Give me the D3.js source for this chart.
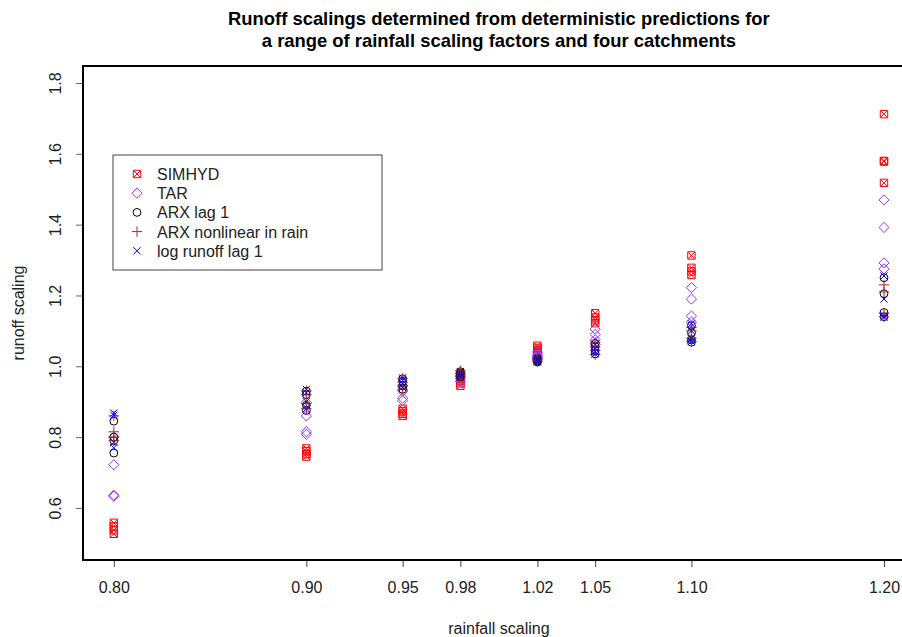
<!DOCTYPE html>
<html>
<head>
<meta charset="utf-8">
<script src="https://cdn.jsdelivr.net/npm/d3@7"></script>
<style>
  body { margin: 0; background: #fff; }
  svg text { font-family: "Liberation Sans", Arial, sans-serif; }
</style>
</head>
<body>
<svg id="chart" width="902" height="637"></svg>
<script>
// rainfall scaling factors (x positions)
const rainScale= [0.80, 0.90, 0.95, 0.98, 1.02, 1.05, 1.10, 1.20];
const xTickLabels= ['0.80', '0.90', '0.95', '0.98', '1.02', '1.05', '1.10', '1.20'];
const yTicks= [0.6, 0.8, 1.0, 1.2, 1.4, 1.6, 1.8];

// runoff scaling, one row per rainfall factor, four catchments each
const simhyd= [
  [0.558, 0.548, 0.537, 0.527],
  [0.768, 0.760, 0.752, 0.745],
  [0.880, 0.873, 0.866, 0.860],
  [0.970, 0.960, 0.952, 0.945],
  [1.058, 1.052, 1.045, 1.040],
  [1.150, 1.138, 1.130, 1.122],
  [1.313, 1.278, 1.268, 1.258],
  [1.712, 1.580, 1.578, 1.518]
];
const tar= [
  [0.800, 0.722, 0.636, 0.633],
  [0.898, 0.860, 0.815, 0.808],
  [0.945, 0.930, 0.910, 0.903],
  [0.980, 0.972, 0.965, 0.958],
  [1.040, 1.032, 1.028, 1.022],
  [1.105, 1.090, 1.075, 1.062],
  [1.222, 1.190, 1.142, 1.125],
  [1.470, 1.392, 1.292, 1.275]
];
const arxLag1= [
  [0.845, 0.800, 0.790, 0.755],
  [0.930, 0.920, 0.890, 0.875],
  [0.965, 0.958, 0.945, 0.935],
  [0.985, 0.980, 0.975, 0.970],
  [1.022, 1.018, 1.015, 1.012],
  [1.065, 1.055, 1.045, 1.035],
  [1.115, 1.095, 1.075, 1.068],
  [1.250, 1.205, 1.152, 1.140]
];
const arxNonlin= [
  [0.860, 0.815, 0.800, 0.790],
  [0.930, 0.920, 0.895, 0.880],
  [0.965, 0.955, 0.945, 0.935],
  [0.987, 0.980, 0.975, 0.970],
  [1.025, 1.020, 1.017, 1.013],
  [1.068, 1.055, 1.045, 1.033],
  [1.110, 1.100, 1.080, 1.070],
  [1.230, 1.210, 1.150, 1.140]
];
const logRunoff= [
  [0.868, 0.862, 0.785, 0.770],
  [0.935, 0.925, 0.900, 0.880],
  [0.967, 0.960, 0.950, 0.940],
  [0.985, 0.980, 0.975, 0.970],
  [1.022, 1.018, 1.016, 1.012],
  [1.062, 1.050, 1.042, 1.035],
  [1.120, 1.100, 1.078, 1.070],
  [1.255, 1.190, 1.143, 1.138]
];

const seriesNames= ['SIMHYD', 'TAR', 'ARX lag 1', 'ARX nonlinear in rain', 'log runoff lag 1'];
const seriesData= [simhyd, tar, arxLag1, arxNonlin, logRunoff];
const seriesColors= ['#ff0000', '#9b30ff', '#000000', '#a52a2a', '#0000ff'];

const svg= d3.select('#chart');
const L= 83, T= 66, B= 560, R= 914.8;

const x= d3.scaleLinear().domain([0.784, 1.216]).range([L, R]);
const y= d3.scaleLinear().domain([0.453, 1.848]).range([B, T]);

// symbol drawing, R-like pch shapes
function drawSymbol(g, i, color) {
  const add= (type, size) => g.append('path')
    .attr('d', d3.symbol().type(type).size(size)())
    .attr('fill', 'none').attr('stroke', color).attr('stroke-width', 1);
  if (i === 0) { add(d3.symbolSquare2, 70); add(d3.symbolTimes, 28); }
  else if (i === 1) add(d3.symbolDiamond2, 66);
  else if (i === 2) add(d3.symbolCircle, 48);
  else if (i === 3) add(d3.symbolPlus, 38);
  else add(d3.symbolTimes, 36);
}

// points
seriesData.forEach((rows, si) => {
  const pts= [];
  rows.forEach((vals, ri) => vals.forEach(v => pts.push([rainScale[ri], v])));
  svg.append('g').selectAll('g').data(pts).join('g')
    .attr('transform', d => `translate(${x(d[0])},${y(d[1])})`)
    .each(function() { drawSymbol(d3.select(this), si, seriesColors[si]); });
});

// axes
const xAxis= svg.append('g').attr('transform', `translate(0,${B})`)
  .call(d3.axisBottom(x).tickValues(rainScale).tickFormat((d, i) => xTickLabels[i]).tickSize(7).tickSizeOuter(0));
xAxis.select('.domain').remove();
xAxis.selectAll('text').attr('font-size', 16).attr('fill', '#222').attr('dy', 0).attr('y', 33);
xAxis.selectAll('line').attr('stroke', '#444');

const yAxis= svg.append('g').attr('transform', `translate(${L},0)`)
  .call(d3.axisLeft(y).tickValues(yTicks).tickSize(7).tickSizeOuter(0));
yAxis.select('.domain').remove();
yAxis.selectAll('line').attr('stroke', '#666');
yAxis.selectAll('text').remove();
yAxis.selectAll('.tick').append('text')
  .attr('transform', 'translate(-22,0) rotate(-90)')
  .attr('text-anchor', 'middle').attr('font-size', 16).attr('fill', '#222')
  .text(d => d3.format('.1f')(d));

// plot box
svg.append('rect').attr('x', L).attr('y', T).attr('width', R-L).attr('height', B-T)
  .attr('fill', 'none').attr('stroke', '#000').attr('stroke-width', 2);

// titles
const cx= (L+R)/2;
svg.append('text').attr('x', cx).attr('y', 25).attr('text-anchor', 'middle')
  .attr('font-size', 18.4).attr('font-weight', 'bold')
  .text('Runoff scalings determined from deterministic predictions for');
svg.append('text').attr('x', cx).attr('y', 47).attr('text-anchor', 'middle')
  .attr('font-size', 18.4).attr('font-weight', 'bold')
  .text('a range of rainfall scaling factors and four catchments');
svg.append('text').attr('x', cx).attr('y', 634).attr('text-anchor', 'middle')
  .attr('font-size', 16).attr('fill', '#222').text('rainfall scaling');
svg.append('text').attr('transform', `translate(24,${(T+B)/2}) rotate(-90)`)
  .attr('text-anchor', 'middle').attr('font-size', 16).attr('fill', '#222').text('runoff scaling');

// legend
const lg= svg.append('g').attr('transform', 'translate(113,155)');
lg.append('rect').attr('width', 269).attr('height', 115)
  .attr('fill', '#fff').attr('stroke', '#444').attr('stroke-width', 1);
seriesNames.forEach((name, i) => {
  const row= lg.append('g').attr('transform', `translate(24,${19+i*19.2})`);
  drawSymbol(row.append('g'), i, seriesColors[i]);
  row.append('text').attr('x', 20).attr('y', 6).attr('font-size', 16).attr('fill', '#222').text(name);
});
</script>
</body>
</html>
